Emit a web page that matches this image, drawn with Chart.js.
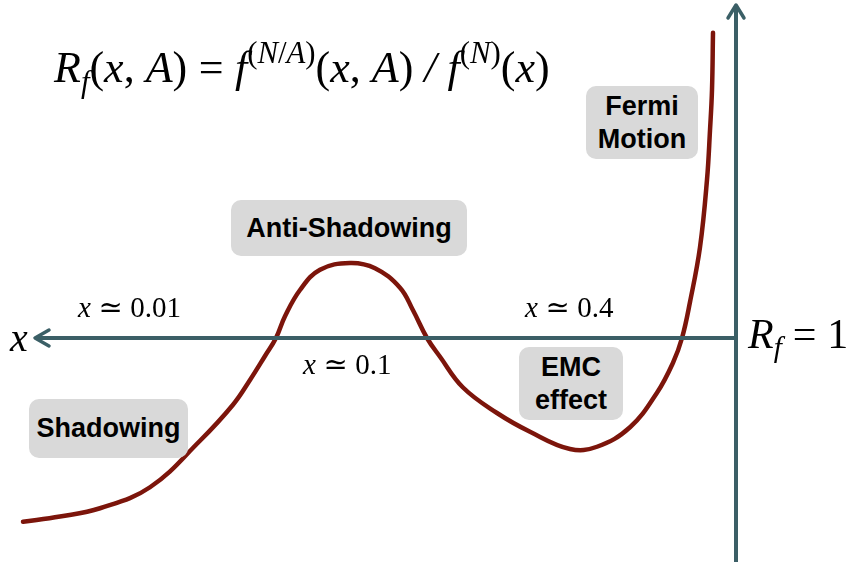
<!DOCTYPE html>
<html>
<head>
<meta charset="utf-8">
<script src="https://cdn.jsdelivr.net/npm/chart.js@4"></script>
<style>
    html, body { margin: 0; padding: 0; background: #fff; }
    .wrap { position: relative; width: 858px; height: 562px; overflow: hidden; }
    canvas { position: absolute; left: 0; top: 0; }
    .math { position: absolute; font-family: "Liberation Serif", "DejaVu Serif", serif; color: #000; white-space: nowrap; line-height: 1; }
    .math i { font-style: italic; }
    .math sup { font-size: 70%; vertical-align: 0; position: relative; top: -0.62em; }
    .math sub { font-size: 70%; vertical-align: 0; position: relative; top: 0.32em; }
    .math .rel { display: inline-block; margin: 0 0.26em; }
    .box { position: absolute; background: #d9d9d9; border-radius: 10px; font-family: "Liberation Sans", Arial, sans-serif; font-weight: bold; font-size: 27px; line-height: 1.2; color: #000; display: flex; align-items: center; justify-content: center; text-align: center; }
</style>
</head>
<body>
<div class="wrap">
    <canvas id="chart" width="858" height="562"></canvas>

    <div class="math" style="left:54px; top:46px; font-size:44px;"><i>R</i><sub><i>f</i></sub>(<i>x</i>, <i>A</i>)<span class="rel">=</span><i>f</i><sup>(<i>N</i>/<i>A</i>)</sup>(<i>x</i>, <i>A</i>) <i>/</i> <i>f</i><sup>(<i>N</i>)</sup>(<i>x</i>)</div>
    <div class="math" style="left:10px; top:318px; font-size:40px;"><i>x</i></div>
    <div class="math" style="left:748px; top:313px; font-size:42px;"><i>R</i><sub><i>f</i></sub><span class="rel">=</span>1</div>
    <div class="math" style="left:78px; top:293px; font-size:29px;"><i>x</i><span class="rel">≃</span>0.01</div>
    <div class="math" style="left:303px; top:350px; font-size:29px;"><i>x</i><span class="rel">≃</span>0.1</div>
    <div class="math" style="left:525px; top:293px; font-size:29px;"><i>x</i><span class="rel">≃</span>0.4</div>

    <div class="box" style="left:586px; top:86px; width:112px; height:73px;">Fermi<br>Motion</div>
    <div class="box" style="left:231px; top:200px; width:236px; height:56px;">Anti-Shadowing</div>
    <div class="box" style="left:29px; top:399px; width:159px; height:59px;">Shadowing</div>
    <div class="box" style="left:519px; top:347px; width:104px; height:73px;">EMC<br>effect</div>
</div>

<script>
// Position along the x axis (grows to the left) and ratio R_f
const curveX = [7.13, 6.76, 6.36, 5.86, 5.36, 5.03, 4.86, 4.71, 4.60, 4.51, 4.36, 4.16, 3.86, 3.61, 3.36, 3.23, 3.09, 2.96, 2.73, 2.39, 2.06, 1.66, 1.39, 1.06, 0.79, 0.63, 0.54, 0.46, 0.36, 0.29, 0.26, 0.24, 0.23];
const curveR = [0.755, 0.762, 0.773, 0.801, 0.863, 0.911, 0.944, 0.976, 1.0, 1.029, 1.064, 1.091, 1.100, 1.093, 1.067, 1.037, 1.0, 0.975, 0.934, 0.900, 0.875, 0.852, 0.855, 0.881, 0.927, 0.967, 1.0, 1.048, 1.121, 1.211, 1.277, 1.331, 1.407];

// Axes: x axis along R_f = 1, R_f axis at x position 0
const xAxisX = [7.01, 0];
const xAxisR = [1, 1];
const rAxisX = [0, 0];
const rAxisR = [0.70, 1.444];

const axisColor = '#3b5f66';
const curveColor = '#7c150b';

function toPoints(xs, ys) {
    return xs.map((v, i) => ({ x: v, y: ys[i] }));
}

// Draws the open arrow heads at the end of both axes
const arrowPlugin = {
    id: 'arrows',
    afterDatasetsDraw(chart) {
        const ctx = chart.ctx;
        const sx = chart.scales.x;
        const sy = chart.scales.y;
        ctx.save();
        ctx.strokeStyle = axisColor;
        ctx.lineWidth = 3.5;
        ctx.lineCap = 'round';
        ctx.lineJoin = 'round';

        // left end of the x axis
        let px = sx.getPixelForValue(xAxisX[0]);
        let py = sy.getPixelForValue(xAxisR[0]);
        ctx.beginPath();
        ctx.moveTo(px + 14, py - 8);
        ctx.lineTo(px, py);
        ctx.lineTo(px + 14, py + 8);
        ctx.stroke();

        // top end of the R_f axis
        px = sx.getPixelForValue(rAxisX[1]);
        py = sy.getPixelForValue(rAxisR[1]);
        ctx.beginPath();
        ctx.moveTo(px - 8, py + 13);
        ctx.lineTo(px, py);
        ctx.lineTo(px + 8, py + 13);
        ctx.stroke();
        ctx.restore();
    }
};

document.addEventListener('DOMContentLoaded', function() {
    const ctx = document.getElementById('chart').getContext('2d');
    new Chart(ctx, {
        type: 'line',
        data: {
            datasets: [
                {
                    data: toPoints(xAxisX, xAxisR),
                    borderColor: axisColor,
                    borderWidth: 4,
                    pointRadius: 0,
                    clip: false
                },
                {
                    data: toPoints(rAxisX, rAxisR),
                    borderColor: axisColor,
                    borderWidth: 4,
                    pointRadius: 0,
                    clip: false
                },
                {
                    data: toPoints(curveX, curveR),
                    borderColor: curveColor,
                    borderWidth: 4.5,
                    pointRadius: 0,
                    tension: 0.4,
                    borderCapStyle: 'round',
                    clip: false
                }
            ]
        },
        options: {
            responsive: false,
            animation: false,
            events: [],
            layout: { padding: 0 },
            plugins: {
                legend: { display: false },
                tooltip: { enabled: false }
            },
            scales: {
                x: { type: 'linear', display: false, reverse: true, min: -1.22, max: 7.36 },
                y: { type: 'linear', display: false, min: 0.701333, max: 1.450667 }
            }
        },
        plugins: [arrowPlugin]
    });
});
</script>
</body>
</html>
